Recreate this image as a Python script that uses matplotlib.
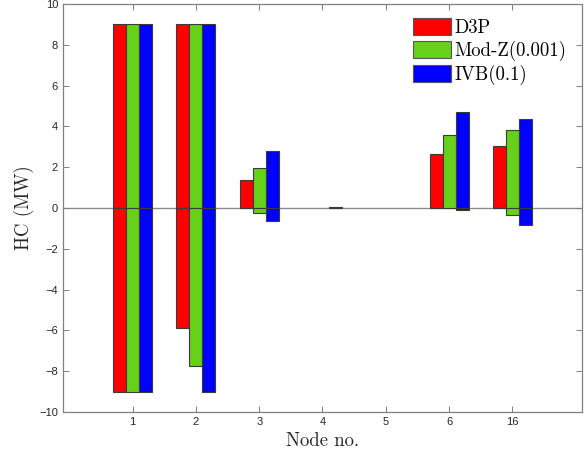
import matplotlib
matplotlib.use("Agg")
import matplotlib.pyplot as plt
import numpy as np

nodes = ["1", "2", "3", "4", "5", "6", "16"]
series = ["D3P", "Mod-Z(0.001)", "IVB(0.1)"]

# upper / lower hosting capacity (MW) per node
d3p_up = [9.0, 9.0, 1.39, 0.0, 0.0, 2.65, 3.06]
d3p_dn = [-9.0, -5.9, 0.0, 0.0, 0.0, 0.0, 0.0]
modz_up = [9.0, 9.0, 1.97, 0.0, 0.0, 3.59, 3.84]
modz_dn = [-9.0, -7.73, -0.24, 0.0, 0.0, 0.0, -0.33]
ivb_up = [9.0, 9.0, 2.80, 0.03, 0.0, 4.73, 4.38]
ivb_dn = [-9.0, -9.0, -0.66, 0.0, 0.0, -0.1, -0.84]

COLORS = ["#ff0000", "#66d11a", "#0000ff"]
BAR_W = 0.205
SERIF = "cmr10"

fig = plt.figure(figsize=(5.87, 4.59), dpi=100)
ax = fig.add_axes([0.1073, 0.1024, 0.8842, 0.8889])

x = np.arange(1, len(nodes) + 1)
ups = [d3p_up, modz_up, ivb_up]
dns = [d3p_dn, modz_dn, ivb_dn]
for i, (up, dn) in enumerate(zip(ups, dns)):
    off = (i - 1) * BAR_W
    for j, vals in enumerate((up, dn)):
        vals = np.asarray(vals)
        keep = vals != 0  # zero-height bars are not drawn
        ax.bar(x[keep] + off, vals[keep], BAR_W, color=COLORS[i],
               edgecolor="#3a3a3a", linewidth=0.8,
               label=series[i] if j == 0 else None, zorder=2)

ax.axhline(0, color="#8c8c8c", linewidth=1.0, zorder=1)

ax.set_xlim(-0.1, 8.1)
ax.set_ylim(-10, 10)
ax.set_xticks(x)
ax.set_xticklabels(nodes)
ax.set_yticks(np.arange(-10, 11, 2))

for spine in ax.spines.values():
    spine.set_color("#808080")
    spine.set_linewidth(0.9)
ax.tick_params(direction="in", length=4, width=0.7, color="#808080",
               top=True, right=True, labelsize=8, labelcolor="#262626")
for lab in ax.get_xticklabels() + ax.get_yticklabels():
    lab.set_fontfamily("Liberation Sans")

ax.set_xlabel("Node no.", fontfamily=SERIF, fontsize=13.5, color="#262626")
ax.set_ylabel("HC (MW)", fontfamily=SERIF, fontsize=13.5, color="#262626")

leg = ax.legend(loc="upper right", frameon=False,
                prop={"family": SERIF, "size": 13.5},
                handlelength=2.0, handleheight=1.0, handletextpad=0.2,
                labelspacing=0.2, borderaxespad=0.3,
                bbox_to_anchor=(0.995, 0.997))
for h in leg.legend_handles:
    h.set_edgecolor("#555555")

fig.savefig("out.png", dpi=100)
